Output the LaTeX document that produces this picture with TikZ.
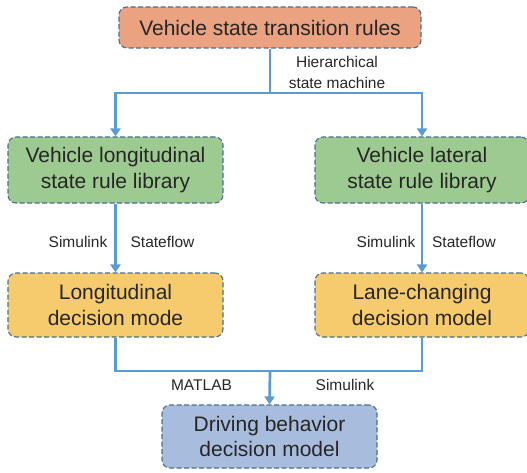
\documentclass[tikz,border=0pt]{standalone}
\usepackage{fontspec}
\setmainfont{Liberation Sans}
\usetikzlibrary{arrows.meta}
\definecolor{boxedge}{HTML}{4A6E94}
\definecolor{flow}{HTML}{5B9BD5}
\definecolor{fillA}{HTML}{EAA280}
\definecolor{fillB}{HTML}{9DCA90}
\definecolor{fillC}{HTML}{F5CB6E}
\definecolor{fillD}{HTML}{A8BCDD}
\definecolor{txt}{HTML}{262626}
\tikzset{
  stage/.style={draw=boxedge, line width=1.1pt, dash pattern=on 5pt off 2.5pt,
    rounded corners=8pt, align=center, text=txt, font=\fontsize{21}{25.5}\selectfont,
    inner sep=0pt, anchor=center},
  link/.style={draw=flow, line width=2.7pt},
  arr/.style={link, -{Triangle[length=8pt,width=10pt]}},
  tag/.style={text=txt, font=\fontsize{15.5}{21}\selectfont, align=center, inner sep=0pt}
}
\begin{document}
\begin{tikzpicture}[x=1pt,y=-1pt]
\useasboundingbox (0,0) rectangle (527,473);
% boxes
\node[stage, fill=fillA, minimum width=302pt, minimum height=41pt] (rules) at (270,27.5) {Vehicle state transition rules};
\node[stage, fill=fillB, minimum width=215pt, minimum height=66pt] (lon) at (115.5,170) {Vehicle longitudinal\\state rule library};
\node[stage, fill=fillB, minimum width=214pt, minimum height=66pt] (lat) at (422,170) {Vehicle lateral\\state rule library};
\node[stage, fill=fillC, minimum width=215pt, minimum height=64pt] (lonm) at (115.5,305) {Longitudinal\\decision mode};
\node[stage, fill=fillC, minimum width=214pt, minimum height=64pt] (latm) at (422,305) {Lane-changing\\decision model};
\node[stage, fill=fillD, minimum width=215pt, minimum height=63pt] (drive) at (269.5,436.5) {Driving behavior\\decision model};
% junction points
\coordinate (top) at (270,93);
\coordinate (bot) at (270,371);
% top split
\draw[link] (rules.south) -- (top);
\draw[arr] (top) -| (lon.north);
\draw[arr] (top) -| (lat.north);
% library to model
\draw[arr] (lon) -- (lonm);
\draw[arr] (lat) -- (latm);
% merge into the final model
\draw[link] (lonm.south) |- (bot);
\draw[link] (latm.south) |- (bot);
\draw[arr] (bot) -- (drive.north);
% labels
\node[tag] (hsm) at (337,72.5) {Hierarchical\\state machine};
\node[tag] (s1) at (78,242) {Simulink};
\node[tag] (f1) at (162.5,242) {Stateflow};
\node[tag] (s2) at (386,242) {Simulink};
\node[tag] (f2) at (464,242) {Stateflow};
\node[tag] (ml) at (201.5,385) {MATLAB};
\node[tag] (s3) at (345,385) {Simulink};
\end{tikzpicture}
\end{document}
